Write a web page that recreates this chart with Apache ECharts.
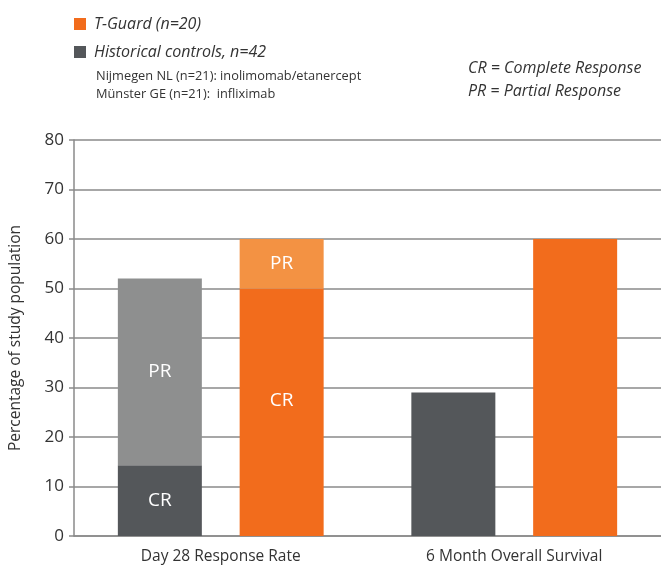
<!DOCTYPE html>
<html><head><meta charset="utf-8">
<script src="https://cdn.jsdelivr.net/npm/echarts@6/dist/echarts.min.js"></script>
<style>html,body{margin:0;padding:0;background:#fff}#c{width:661px;height:567px}</style>
</head><body><div id="c"></div>
<script>
const categories = ['Day 28 Response Rate', '6 Month Overall Survival'];
const histCR = [14.3, 29];
const histPR = [37.7, '-'];
const tgCR = [50, 60];
const tgPR = [10, '-'];
const yTicks = [0, 10, 20, 30, 40, 50, 60, 70, 80];

const FONT = '"Open Sans", "Noto Sans", sans-serif';
const C_OR = '#F26C1C', C_OR2 = '#F39243', C_DG = '#54575A', C_LG = '#8E8F8F';

function inLabel(txt, dy) {
  return { show: true, position: 'inside', color: '#fff', fontSize: 19, fontFamily: FONT,
    offset: [0, dy || 0],
    formatter: p => (p.dataIndex === 0 ? txt : '') };
}

const chart = echarts.init(document.getElementById('c'), null, { renderer: 'canvas' });
chart.setOption({
  animation: false,
  textStyle: { fontFamily: FONT },
  grid: { left: 74, right: 0, top: 140, bottom: 31, containLabel: false },
  legend: {
    orient: 'vertical', left: 69, top: 11, itemGap: 12, itemWidth: 12, itemHeight: 12,
    icon: 'rect',
    data: ['T-Guard (n=20)', 'Historical controls, n=42'],
    textStyle: { fontSize: 16, fontStyle: 'italic', color: '#333', fontFamily: FONT, padding: [0, 0, 0, 3] },
    selectedMode: false
  },
  xAxis: {
    type: 'category', data: categories,
    axisLine: { lineStyle: { color: '#8a8a8a', width: 1.5 } },
    axisTick: { show: false },
    axisLabel: { color: '#333', fontSize: 15.5, margin: 13, fontFamily: FONT }
  },
  yAxis: {
    type: 'value', min: 0, max: 80, interval: 10,
    name: 'Percentage of study population', nameLocation: 'middle', nameGap: 50,
    nameTextStyle: { fontSize: 15.5, color: '#333', fontFamily: FONT },
    axisLine: { show: true, lineStyle: { color: '#8a8a8a', width: 1.5 } },
    axisTick: { show: true, length: 5, lineStyle: { color: '#8a8a8a', width: 1.5 } },
    axisLabel: { color: '#333', fontSize: 17, margin: 10, fontFamily: FONT,
      formatter: v => (yTicks.includes(v) ? String(v) : '') },
    splitLine: { lineStyle: { color: '#8a8a8a', width: 1.5 } }
  },
  series: [
    { name: 'Historical controls, n=42', type: 'bar', stack: 'hist', data: histCR,
      barWidth: 84, barGap: '45%', itemStyle: { color: C_DG }, label: inLabel('CR') },
    { name: 'histPR', type: 'bar', stack: 'hist', data: histPR,
      barWidth: 84, itemStyle: { color: C_LG }, label: inLabel('PR') },
    { name: 'T-Guard (n=20)', type: 'bar', stack: 'tg', data: tgCR,
      barWidth: 84, barGap: '45%', itemStyle: { color: C_OR }, label: inLabel('CR', -12) },
    { name: 'tgPR', type: 'bar', stack: 'tg', data: tgPR,
      barWidth: 84, itemStyle: { color: C_OR2 }, label: inLabel('PR') }
  ],
  graphic: [
    { type: 'text', left: 96, top: 70, style: { text: 'Nijmegen NL (n=21): inolimomab/etanercept', font: '12.8px ' + FONT, fill: '#333' } },
    { type: 'text', left: 96, top: 88, style: { text: 'Münster GE (n=21):  infliximab', font: '12.8px ' + FONT, fill: '#333' } },
    { type: 'text', left: 468, top: 60, style: { text: 'CR = Complete Response', font: 'italic 16px ' + FONT, fill: '#333' } },
    { type: 'text', left: 468, top: 83, style: { text: 'PR = Partial Response', font: 'italic 16px ' + FONT, fill: '#333' } }
  ]
});
</script></body></html>
